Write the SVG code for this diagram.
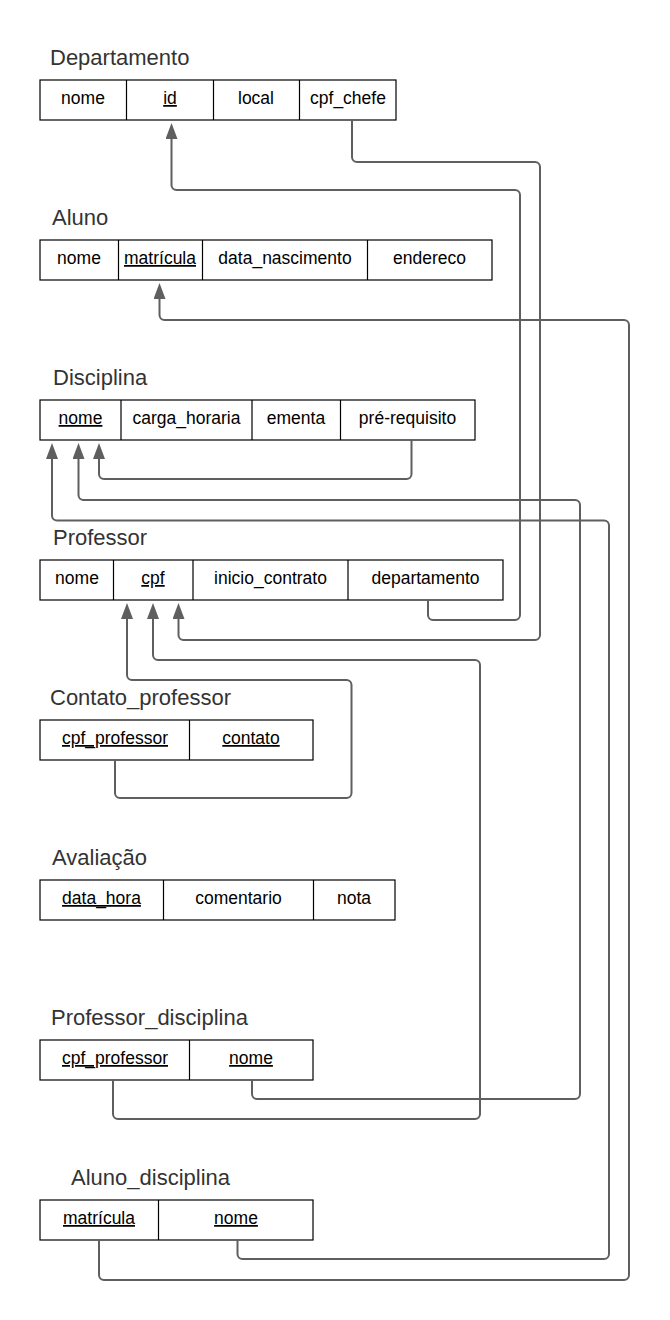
<svg xmlns="http://www.w3.org/2000/svg" width="670" height="1320" viewBox="0 0 670 1320">
<style>
.title{font-family:"Liberation Sans",Arial,sans-serif;font-size:22px;fill:#333333}
.cell{font-family:"Liberation Sans",Arial,sans-serif;font-size:17.5px;fill:#000000;text-anchor:middle}
.u{text-decoration:underline}
.box{fill:#ffffff;stroke:#000000;stroke-width:1.2}
.div{stroke:#000000;stroke-width:1.2}
.conn{fill:none;stroke:#5f5f5f;stroke-width:2}
</style>
<defs>
<marker id="arr" markerUnits="userSpaceOnUse" markerWidth="16" markerHeight="12" refX="0" refY="6" orient="auto" viewBox="0 0 16 12"><path d="M0,0 L16,6 L0,12 z" fill="#5f5f5f"/></marker>
</defs>
<rect width="670" height="1320" fill="#ffffff"/>

<g id="departamento">
<text class="title" x="50" y="65">Departamento</text>
<rect class="box" x="40" y="80" width="356" height="40"/>
<path class="div" d="M126.5,80V120M213.5,80V120M299.5,80V120"/>
<text class="cell" x="83" y="104">nome</text>
<text class="cell u" x="170" y="104">id</text>
<text class="cell" x="256" y="104">local</text>
<text class="cell" x="348" y="104">cpf_chefe</text>
</g>

<g id="aluno">
<text class="title" x="52" y="225">Aluno</text>
<rect class="box" x="40" y="240" width="452" height="40"/>
<path class="div" d="M118.5,240V280M202.5,240V280M367.5,240V280"/>
<text class="cell" x="79" y="264">nome</text>
<text class="cell u" x="160" y="264">matrícula</text>
<text class="cell" x="285" y="264">data_nascimento</text>
<text class="cell" x="429.5" y="264">endereco</text>
</g>

<g id="disciplina">
<text class="title" x="53" y="385">Disciplina</text>
<rect class="box" x="40" y="400" width="435" height="40"/>
<path class="div" d="M121,400V440M252,400V440M340.5,400V440"/>
<text class="cell u" x="80.5" y="424">nome</text>
<text class="cell" x="186.5" y="424">carga_horaria</text>
<text class="cell" x="296" y="424">ementa</text>
<text class="cell" x="407.5" y="424">pré-requisito</text>
</g>

<g id="professor">
<text class="title" x="53" y="545">Professor</text>
<rect class="box" x="40" y="560" width="463" height="40"/>
<path class="div" d="M113.5,560V600M193,560V600M348,560V600"/>
<text class="cell" x="77" y="584">nome</text>
<text class="cell u" x="153" y="584">cpf</text>
<text class="cell" x="270.5" y="584">inicio_contrato</text>
<text class="cell" x="425.5" y="584">departamento</text>
</g>

<g id="contato_professor">
<text class="title" x="50" y="705">Contato_professor</text>
<rect class="box" x="40" y="720" width="273" height="40"/>
<path class="div" d="M189.5,720V760"/>
<text class="cell u" x="115" y="744">cpf_professor</text>
<text class="cell u" x="251" y="744">contato</text>
</g>

<g id="avaliacao">
<text class="title" x="52" y="865">Avaliação</text>
<rect class="box" x="40" y="880" width="355" height="40"/>
<path class="div" d="M163.5,880V920M313.5,880V920"/>
<text class="cell u" x="101.5" y="904">data_hora</text>
<text class="cell" x="238.5" y="904">comentario</text>
<text class="cell" x="354" y="904">nota</text>
</g>

<g id="professor_disciplina">
<text class="title" x="51" y="1025">Professor_disciplina</text>
<rect class="box" x="40" y="1040" width="273" height="40"/>
<path class="div" d="M189.5,1040V1080"/>
<text class="cell u" x="115" y="1064">cpf_professor</text>
<text class="cell u" x="251" y="1064">nome</text>
</g>

<g id="aluno_disciplina">
<text class="title" x="71" y="1185">Aluno_disciplina</text>
<rect class="box" x="40" y="1200" width="273" height="40"/>
<path class="div" d="M158.5,1200V1240"/>
<text class="cell u" x="99" y="1224">matrícula</text>
<text class="cell u" x="236" y="1224">nome</text>
</g>

<g id="connectors">
<path class="conn" marker-end="url(#arr)" d="M428,600 V615 A5,5 0 0 0 433,620 H515 A5,5 0 0 0 520,615 V195 A5,5 0 0 0 515,190 H176.5 A5,5 0 0 1 171.5,185 V139"/>
<path class="conn" marker-end="url(#arr)" d="M352,120 V157 A5,5 0 0 0 357,162 H535 A5,5 0 0 1 540,167 V635 A5,5 0 0 1 535,640 H183.5 A5,5 0 0 1 178.5,635 V619"/>
<path class="conn" marker-end="url(#arr)" d="M99,1240 V1275 A5,5 0 0 0 104,1280 H624 A5,5 0 0 0 629,1275 V325 A5,5 0 0 0 624,320 H164.5 A5,5 0 0 1 159.5,315 V299"/>
<path class="conn" marker-end="url(#arr)" d="M411.5,440 V474 A5,5 0 0 1 406.5,479 H104 A5,5 0 0 1 99,474 V459"/>
<path class="conn" marker-end="url(#arr)" d="M252,1080 V1094 A5,5 0 0 0 257,1099 H575 A5,5 0 0 0 580,1094 V505 A5,5 0 0 0 575,500 H83.5 A5,5 0 0 1 78.5,495 V459"/>
<path class="conn" marker-end="url(#arr)" d="M237.5,1240 V1254 A5,5 0 0 0 242.5,1259 H604 A5,5 0 0 0 609,1254 V525.5 A5,5 0 0 0 604,520.5 H57 A5,5 0 0 1 52,515.5 V459"/>
<path class="conn" marker-end="url(#arr)" d="M115,760 V793 A5,5 0 0 0 120,798 H346.5 A5,5 0 0 0 351.5,793 V685 A5,5 0 0 0 346.5,680 H132 A5,5 0 0 1 127,675 V619"/>
<path class="conn" marker-end="url(#arr)" d="M113,1080 V1114 A5,5 0 0 0 118,1119 H475 A5,5 0 0 0 480,1114 V665 A5,5 0 0 0 475,660 H158 A5,5 0 0 1 153,655 V619"/>
</g>
</svg>
